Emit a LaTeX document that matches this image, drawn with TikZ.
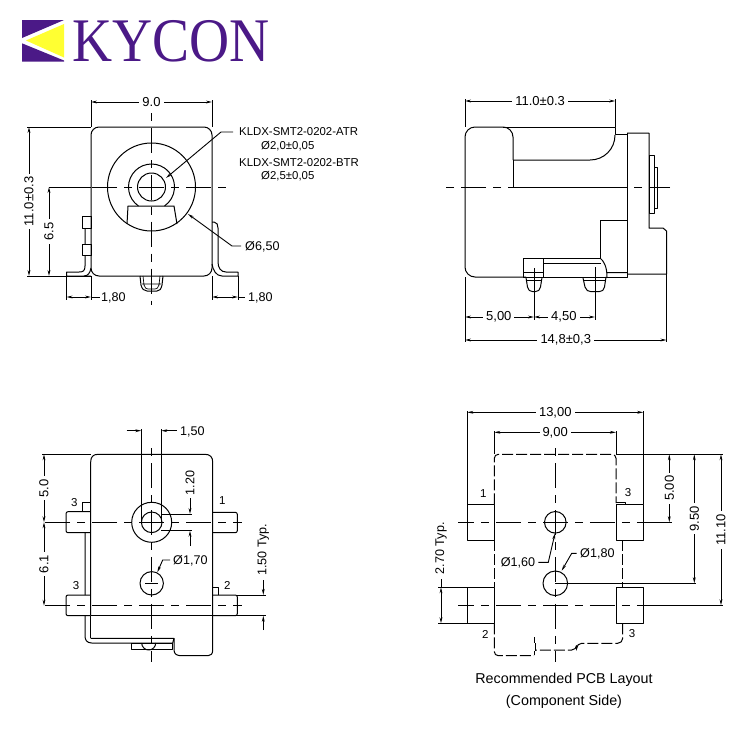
\documentclass[tikz,border=0pt]{standalone}
\usepackage{fontspec}
\setmainfont{Liberation Sans}
\newfontfamily\logofont{Liberation Serif}
\usetikzlibrary{arrows.meta}
\definecolor{kpurple}{RGB}{75,25,135}
\definecolor{kyellow}{RGB}{255,255,50}
\tikzset{
  part/.style={line width=1pt,line join=round},
  thin part/.style={line width=0.7pt},
  ext/.style={line width=1pt},
  dimline/.style={line width=0.9pt,{Stealth[length=6pt,width=2.8pt]}-{Stealth[length=6pt,width=2.8pt]}},
  oneway/.style={line width=0.9pt,-{Stealth[length=6pt,width=2.8pt]}},
  axis/.style={line width=1pt,dash pattern=on 25pt off 7pt on 8pt off 7pt,dash phase=12.5pt},
  pcb/.style={line width=1pt,dash pattern=on 11pt off 3pt},
  dimtext/.style={fill=white,inner sep=3pt,font=\fontsize{13}{13}\selectfont},
  dimplain/.style={inner sep=0pt,font=\fontsize{12.6}{13}\selectfont,anchor=west},
  note/.style={inner sep=0pt,anchor=west,font=\fontsize{11.4}{12}\selectfont},
  pinno/.style={inner sep=0pt,font=\fontsize{11.5}{12}\selectfont},
  caption/.style={inner sep=0pt,font=\fontsize{14.3}{15}\selectfont}
}
\begin{document}
\begin{tikzpicture}[x=1pt,y=-1pt]
\useasboundingbox (0,0) rectangle (748,748);
% ---------- logo ----------
\fill[kpurple] (22,20) -- (64,20) -- (22,38) -- cycle;
\fill[kpurple] (22,43.3) -- (64,60.5) -- (64,61.5) -- (22,61.5) -- cycle;
\fill[kyellow] (26,40.5) -- (64,24) -- (64,57.5) -- cycle;
\node[inner sep=0pt,anchor=base west,text=kpurple,xscale=0.895] (logotext) at (72.5,61.5) {\logofont\fontsize{62}{62}\selectfont KYCON};
% ---------- view 1: front ----------
\draw[part,rounded corners=8pt] (91,127) rectangle (212,276);
\draw[part] (151.5,187) circle (44);
\draw[part] (151.5,187) circle (14);
\draw[part] (138.5,206) arc (124.4:415.6:23);
\draw[part] (127,224) -- (128,206) -- (174,206) -- (177,224);
\draw[part] (85,228) -- (85,244) (85,255) -- (85,266) .. controls (85,271) and (83,272) .. (79,272) -- (66.5,272) -- (66.5,276) -- (91,276);
\draw[part] (82,216) rectangle (91,228);
\draw[part] (82,244) rectangle (91,255.5);
\draw[part] (91,268) .. controls (90,273) and (88,276) .. (84,276);
\draw[part] (212,222) -- (214,222) .. controls (217,222) and (218,225) .. (218,228) -- (218,262) .. controls (218,268) and (221,272) .. (226,272) -- (238,272) -- (238,276) -- (222,276) .. controls (216,276) and (213,270) .. (212,264);
\draw[part] (140,276) -- (141,285) .. controls (142,289) and (144,291) .. (147,291) -- (157,291) .. controls (160,291) and (161,289) .. (162,285) -- (163,276);
\draw[thin part] (143,276) -- (144,285) .. controls (145,288) and (146,289) .. (148,289) -- (155,289) .. controls (157,289) and (158,288) .. (159,285) -- (160,276) (142,284) -- (161,284);
\draw[axis] (151.5,187) -- (228,187);
\draw[axis] (151.5,187) -- (91,187);
\draw[axis] (151.5,187) -- (151.5,305);
\draw[axis] (151.5,187) -- (151.5,113);
\draw[ext] (49,187) -- (91,187);
\draw[ext] (27,127) -- (91,127) (27,276) -- (91,276);
\draw[ext] (91,100) -- (91,127) (212,100) -- (212,127);
\draw[ext] (66.5,276) -- (66.5,300) (91,276) -- (91,300) (212,276) -- (212,300) (238,276) -- (238,300);
\draw[dimline] (91,102) -- node[dimtext] (d90) {9.0} (212,102);
\draw[dimline] (29,127) -- node[dimtext,rotate=90] (d110) {11.0±0.3} (29,276);
\draw[dimline] (49,187) -- node[dimtext,rotate=90] (d65) {6.5} (49,276);
\draw[dimline] (66.5,297) -- (91,297);
\draw[ext] (91,297) -- (100,297);
\node[dimplain] (d18a) at (101,297.5) {1,80};
\draw[dimline] (212,297) -- (238,297);
\draw[ext] (238,297) -- (245,297);
\node[dimplain] (d18b) at (248,297.5) {1,80};
\node[note] (atr) at (239,132) {KLDX-SMT2-0202-ATR};
\node[note] (atrd) at (261,146) {Ø2,0±0,05};
\node[note] (btr) at (239,163) {KLDX-SMT2-0202-BTR};
\node[note] (btrd) at (261,176) {Ø2,5±0,05};
\draw[oneway] (atr.west) ++(-6,0) -- (221,132) -- (166,178);
\node[dimplain] (d65o) at (245,246.5) {Ø6,50};
\draw[oneway] (d65o.west) ++(-4,-0.5) -- (232,246) -- (188,214);
% ---------- view 2: side ----------
\draw[part] (503,127) -- (615,127) -- (615,134) -- (627,134);
\draw[part,rounded corners=10pt] (513,160) -- (513,127) -- (465,127) -- (465,277) -- (526,277);
\draw[part] (513,160) -- (513,187.7);
\draw[part] (513,160) -- (590,160) .. controls (604,160) and (615,149) .. (615,135);
\draw[part] (627,133) -- (649,133) -- (649,228) -- (663,228) -- (666.5,231) -- (666.5,274) -- (627,274);
\draw[part] (627,133) -- (627,277) -- (607,277);
\draw[part] (600,220.7) -- (627,220.7);
\draw[part] (600,220.7) -- (600,258) -- (523,258) -- (523,277.5) -- (543,277.5) -- (543,258);
\draw[part] (523,272.5) -- (543,272.5);
\draw[part] (543,263) -- (601,263);
\draw[part] (600,258) .. controls (604,261) and (607,267) .. (607,277) (607,272.5) -- (627,272.5);
\draw[part] (543,277) -- (607,277);
\draw[part] (526,277.5) -- (527.5,287) .. controls (528,290) and (530,291.7) .. (533,291.7) -- (535,291.7) .. controls (538,291.7) and (540,290) .. (540.5,287) -- (542,277.5);
\draw[thin part] (525.5,280) -- (542,280);
\draw[part] (583,278) -- (585,287) .. controls (586,290) and (588,291.7) .. (591,291.7) -- (599,291.7) .. controls (602,291.7) and (604,290) .. (604.5,287) -- (606,277);
\draw[thin part] (584,280) -- (606,280);
\draw[part] (649,155.7) rectangle (654.3,213.3);
\draw[part] (654.3,167.3) rectangle (657.7,208.3);
\draw[axis,dash phase=4pt] (670,187.7) -- (442,187.7);
\draw[line width=1.3pt] (513,187.7) -- (627,187.7);
\draw[ext] (465,99) -- (465,127) (615.3,99) -- (615.3,127);
\draw[ext] (465,277) -- (465,342) (666.5,274) -- (666.5,342);
\draw[ext] (534,268) -- (534,320) (595,267) -- (595,320);
\draw[dimline] (465,101) -- node[dimtext,pos=0.5] (d11b) {11.0±0.3} (615.3,101);
\draw[dimline] (465,317) -- node[dimtext,pos=0.49] (d5b) {5,00} (534,317);
\draw[dimline] (534,317) -- node[dimtext,pos=0.49] (d45) {4,50} (595,317);
\draw[dimline] (465,340) -- node[dimtext,pos=0.5] (d148) {14,8±0,3} (666.5,340);
% ---------- view 3: underside ----------
\draw[part] (90.7,615.7) -- (90.7,462) .. controls (90.7,457) and (93,454.3) .. (98,454.3) -- (205,454.3) .. controls (210,454.3) and (212.7,457) .. (212.7,462) -- (212.7,650) .. controls (212.7,654) and (211,655.7) .. (208,655.7) -- (181,655.7) .. controls (177,655.7) and (174,654) .. (174,650) -- (174,638.3) -- (90.7,638.3);
\draw[part] (85,532.7) -- (85,595) (85,615.7) -- (85,636) .. controls (85,640) and (87,643) .. (91.7,643) -- (172.7,643) -- (174,638.3);
\draw[part] (90.7,615.7) -- (90.7,638.3);
\draw[part] (131,643) rectangle (172.7,649.3);
\draw[part] (141.7,643) arc (180:0:7);
\draw[part,rounded corners=2pt] (90.7,511.7) -- (66,511.7) -- (66,532.7) -- (90.7,532.7);
\draw[part] (82.7,511.7) -- (82.7,502.3) -- (90.7,502.3);
\draw[part,rounded corners=2pt] (212.7,512.3) -- (237.3,512.3) -- (237.3,532.7) -- (212.7,532.7);
\draw[part,rounded corners=2pt] (90.7,595) -- (66,595) -- (66,615.7) -- (90.7,615.7);
\draw[part,rounded corners=2pt] (212.7,595) -- (237.3,595) -- (237.3,615.7) -- (212.7,615.7);
\draw[part] (212.7,587.7) -- (218.7,587.7) -- (218.7,595);
\node[pinno] (p3a) at (74.3,502.3) {3};
\node[pinno] (p1a) at (222.3,500.7) {1};
\node[pinno] (p3b) at (76,585.7) {3};
\node[pinno] (p2a) at (227.3,585) {2};
\draw[axis] (151.7,522.3) -- (241.7,522.3);
\draw[axis] (151.7,522.3) -- (42.7,522.3);
\draw[axis] (151.7,605.7) -- (241.7,605.7);
\draw[axis] (151.7,605.7) -- (42.7,605.7);
\draw[axis] (151.7,522.3) -- (151.7,661.7);
\draw[axis] (151.7,522.3) -- (151.7,444);
\draw[part] (151.7,522.3) circle (20);
\draw[part] (151.7,522.3) circle (10.3);
\draw[part] (151.7,583.3) circle (11.7);
\draw[ext] (145,583.3) -- (158,583.3);
\draw[ext] (141.3,429) -- (141.3,522) (161.3,429) -- (161.3,522);
\draw[oneway] (126.7,430.7) -- (141.3,430.7);
\draw[oneway] (176.7,430.7) -- (161.3,430.7);
\node[dimplain] (d150) at (180,431.5) {1,50};
\draw[ext] (161,514) -- (191.7,514) (161,530.7) -- (191.7,530.7);
\draw[oneway] (190,498.3) -- (190,514);
\draw[oneway] (190,546) -- (190,530.7);
\node[dimplain,anchor=center,rotate=90] (d120) at (190,483) {1.20};
\draw[ext] (42,454.3) -- (91,454.3);
\draw[dimline] (44,454.3) -- node[dimtext,rotate=90] (d50) {5.0} (44,522.3);
\draw[dimline] (44,522.3) -- node[dimtext,rotate=90] (d61) {6.1} (44,605.7);
\draw[ext] (237,595) -- (266,595) (90.7,615.7) -- (266,615.7);
\draw[oneway] (263.3,580) -- (263.3,595);
\draw[oneway] (263.3,630) -- (263.3,615.7);
\node[dimplain,anchor=center,rotate=90] (d150t) at (263.3,550) {1.50 Typ.};
\node[dimplain] (d170) at (173,560.5) {Ø1,70};
\draw[oneway] (d170.west) ++(-3,-0.5) -- (162.7,560) -- (157.3,572.3);
% ---------- view 4: PCB layout ----------
\draw[pcb,rounded corners=4pt] (494.3,504.3) -- (494.3,454.3) -- (616,454.3) -- (616,503);
\draw[pcb] (494.3,540.3) -- (494.3,587.3);
\draw[pcb,rounded corners=4pt] (494.3,623.3) -- (494.3,655.7) -- (534,655.7);
\draw[pcb] (622.7,540.3) -- (622.7,587.3);
\draw[pcb,rounded corners=5pt] (622.7,623.3) -- (622.7,643.3) -- (576.7,643.3) -- (576.7,650) -- (536,650);
\draw[ext] (534.3,637.3) -- (534.3,643) (535.5,643) -- (535.5,650) -- (535,650) (534,651) -- (534,655);
\draw[part] (616,502.7) -- (625,502.7) -- (625,504.3);
\draw[part] (467.3,504.3) rectangle (494,540.3);
\draw[part] (616,504.3) rectangle (643.3,540.3);
\draw[part] (467.3,587.3) rectangle (494,623.3);
\draw[part] (616,587.3) rectangle (643.3,623.3);
\draw[part] (555.3,522.3) circle (10.8);
\draw[part] (555.3,583.3) circle (12.3);
\draw[axis] (555.3,522.3) -- (643.3,522.3);
\draw[axis] (555.3,522.3) -- (458.3,522.3);
\draw[axis] (555.3,605.3) -- (643.3,605.3);
\draw[axis] (555.3,605.3) -- (458.3,605.3);
\draw[axis] (555.3,522.3) -- (555.3,661.7);
\draw[axis] (555.3,522.3) -- (555.3,444);
\draw[ext] (643.3,522.3) -- (671.7,522.3) (643.3,605.3) -- (722.7,605.3) (616,454.3) -- (722.7,454.3);
\draw[ext] (555.3,583.3) -- (695.7,583.3);
\draw[ext] (467.3,411) -- (467.3,504.3) (643.3,411) -- (643.3,504.3);
\draw[ext] (494.3,431) -- (494.3,454.3) (616,431) -- (616,454.3);
\draw[ext] (438,587.3) -- (494,587.3) (438,623.3) -- (494,623.3);
\draw[dimline] (467.3,412.3) -- node[dimtext] (d13) {13,00} (643.3,412.3);
\draw[dimline] (494.3,432.3) -- node[dimtext] (d9) {9,00} (616,432.3);
\draw[dimline] (669.3,454.3) -- node[dimtext,rotate=90] (d5c) {5.00} (669.3,522.3);
\draw[dimline] (694.3,454.3) -- node[dimtext,rotate=90] (d95) {9.50} (694.3,583.3);
\draw[dimline] (721,454.3) -- node[dimtext,rotate=90] (d1110) {11.10} (721,605.3);
\draw[dimline] (441,587.3) -- (441,623.3);
\draw[ext] (441,587.3) -- (441,579);
\node[dimplain,anchor=center,rotate=90] (d270) at (441,548.3) {2.70 Typ.};
\node[pinno] (q1) at (483.3,494) {1};
\node[pinno] (q3a) at (628,492.3) {3};
\node[pinno] (q2) at (485.3,634) {2};
\node[pinno] (q3b) at (632,634) {3};
\node[dimplain] (d160) at (500.7,562.8) {Ø1,60};
\draw[oneway] (538.3,562.3) -- (548.3,562.3) -- (555,533.3);
\node[dimplain] (d180) at (580,553.8) {Ø1,80};
\draw[oneway] (576.7,553.3) -- (571.7,553.3) -- (561.7,570.7);
\node[caption] (cap1) at (564,679.3) {Recommended PCB Layout};
\node[caption] (cap2) at (564,701.7) {(Component Side)};
\end{tikzpicture}
\end{document}
